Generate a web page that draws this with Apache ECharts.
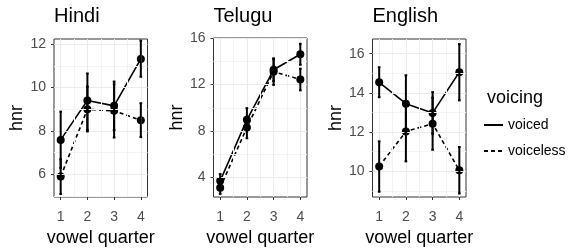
<!DOCTYPE html>
<html>
<head>
<meta charset="utf-8">
<script src="https://cdn.jsdelivr.net/npm/echarts@6/dist/echarts.min.js"></script>
<style>
html,body{margin:0;padding:0;background:#fff;}
#chart{width:580px;height:252px;}
</style>
</head>
<body>
<div id="chart"></div>
<script>
var quarters = [1, 2, 3, 4];
var xGridMinor = [1.5, 2.5, 3.5];

var hindiVoiced = [7.59, 9.41, 9.16, 11.32];
var hindiVoicedLo = [6.29, 8.05, 8.05, 10.5];
var hindiVoicedHi = [8.89, 10.65, 10.28, 12.17];
var hindiVoiceless = [5.9, 9.0, 8.93, 8.5];
var hindiVoicelessLo = [5.1, 7.98, 7.7, 7.72];
var hindiVoicelessHi = [6.7, 10.05, 10.15, 9.28];
var hindiTicks = [6, 8, 10, 12];
var hindiMinor = [5, 7, 9, 11];

var teluguVoiced = [3.72, 8.97, 13.27, 14.6];
var teluguVoicedLo = [3.12, 7.97, 12.3, 13.7];
var teluguVoicedHi = [4.3, 9.97, 14.25, 15.5];
var teluguVoiceless = [3.13, 8.3, 13.1, 12.44];
var teluguVoicelessLo = [2.6, 7.38, 11.97, 11.5];
var teluguVoicelessHi = [3.66, 9.22, 14.2, 13.36];
var teluguTicks = [4, 8, 12, 16];
var teluguMinor = [6, 10, 14];

var englishVoiced = [14.54, 13.45, 12.98, 15.06];
var englishVoicedLo = [13.78, 12.0, 11.92, 13.62];
var englishVoicedHi = [15.31, 14.9, 14.04, 16.49];
var englishVoiceless = [10.25, 12.03, 12.43, 10.05];
var englishVoicelessLo = [8.96, 10.51, 11.1, 8.87];
var englishVoicelessHi = [11.53, 13.55, 13.76, 11.24];
var englishTicks = [10, 12, 14, 16];
var englishMinor = [9, 11, 13, 15];

var FONT = 'Liberation Sans, Arial, sans-serif';

// panel layout (pixels) and axis ranges
var panels = [
	{title: 'Hindi', left: 54, top: 39, height: 163, ymin: 4.96, ymax: 12.24, ticks: hindiTicks, minor: hindiMinor,
		v: hindiVoiced, vlo: hindiVoicedLo, vhi: hindiVoicedHi, u: hindiVoiceless, ulo: hindiVoicelessLo, uhi: hindiVoicelessHi},
	{title: 'Telugu', left: 213.5, top: 38, height: 164.3, ymin: 2.33, ymax: 16, ticks: teluguTicks, minor: teluguMinor,
		v: teluguVoiced, vlo: teluguVoicedLo, vhi: teluguVoicedHi, u: teluguVoiceless, ulo: teluguVoicelessLo, uhi: teluguVoicelessHi},
	{title: 'English', left: 372.5, top: 39, height: 163.3, ymin: 8.69, ymax: 16.75, ticks: englishTicks, minor: englishMinor,
		v: englishVoiced, vlo: englishVoicedLo, vhi: englishVoicedHi, u: englishVoiceless, ulo: englishVoicelessLo, uhi: englishVoicelessHi}
];

function pairs(xs, ys) {
	return xs.map(function(x, i){ return [x, ys[i]]; });
}
function triples(xs, lo, hi) {
	return xs.map(function(x, i){ return [x, lo[i], hi[i]]; });
}

function errorBar(params, api) {
	var x = api.value(0);
	var lo = api.coord([x, api.value(1)]);
	var hi = api.coord([x, api.value(2)]);
	var l = api.coord([x - 0.05, api.value(1)])[0];
	var r = api.coord([x + 0.05, api.value(1)])[0];
	var st = {stroke: '#000', lineWidth: 2, opacity: 1};
	return {
		type: 'group',
		children: [
			{type: 'line', z2: 10, shape: {x1: lo[0], y1: lo[1], x2: hi[0], y2: hi[1]}, style: st},
			{type: 'line', z2: 10, shape: {x1: l, y1: lo[1], x2: r, y2: lo[1]}, style: st},
			{type: 'line', z2: 10, shape: {x1: l, y1: hi[1], x2: r, y2: hi[1]}, style: st}
		]
	};
}

var grids = [], xAxes = [], yAxes = [], series = [], titles = [];

panels.forEach(function(p, i){
	grids.push({left: p.left, top: p.top, width: 93.5, height: p.height, show: true,
		backgroundColor: '#fff', borderColor: '#333', borderWidth: 1});
	titles.push({text: p.title, left: p.left - 5, top: 1,
		textStyle: {fontFamily: FONT, fontSize: 20, fontWeight: 'normal', color: '#000'}});
	xAxes.push({
		type: 'value', gridIndex: i, min: 0.75, max: 4.25,
		name: 'vowel quarter', nameLocation: 'middle', nameGap: 32,
		nameTextStyle: {fontFamily: FONT, fontSize: 18, color: '#000'},
		axisLine: {show: false},
		axisTick: {show: true, length: 3, customValues: quarters, lineStyle: {color: '#333', width: 1}},
		axisLabel: {customValues: quarters, margin: 13, fontFamily: FONT, fontSize: 14, color: '#4d4d4d'},
		splitLine: {show: false}
	});
	yAxes.push({
		type: 'value', gridIndex: i, min: p.ymin, max: p.ymax,
		name: 'hnr', nameLocation: 'middle', nameGap: 24,
		nameTextStyle: {fontFamily: FONT, fontSize: 18, color: '#000'},
		axisLine: {show: false},
		axisTick: {show: true, length: 3, customValues: p.ticks, lineStyle: {color: '#333', width: 1}},
		axisLabel: {customValues: p.ticks, margin: 8, fontFamily: FONT, fontSize: 14, color: '#4d4d4d'},
		splitLine: {show: false}
	});

	// background grid lines
	var lines = [];
	p.minor.forEach(function(v){ lines.push({yAxis: v, lineStyle: {color: '#f3f3f3', width: 1}}); });
	xGridMinor.forEach(function(v){ lines.push({xAxis: v, lineStyle: {color: '#f3f3f3', width: 1}}); });
	p.ticks.forEach(function(v){ lines.push({yAxis: v, lineStyle: {color: '#ebebeb', width: 1}}); });
	quarters.forEach(function(v){ lines.push({xAxis: v, lineStyle: {color: '#ebebeb', width: 1}}); });
	series.push({
		name: 'grid' + i, type: 'line', xAxisIndex: i, yAxisIndex: i, z: 1, silent: true,
		data: pairs(quarters, p.v), showSymbol: false, lineStyle: {opacity: 0},
		markLine: {silent: true, symbol: ['none', 'none'], label: {show: false}, animation: false,
			lineStyle: {type: 'solid'}, data: lines}
	});

	series.push({
		type: 'custom', xAxisIndex: i, yAxisIndex: i, z: 5, renderItem: errorBar,
		encode: {x: 0, y: [1, 2]}, data: triples(quarters, p.vlo, p.vhi)
	});
	series.push({
		type: 'custom', xAxisIndex: i, yAxisIndex: i, z: 5, renderItem: errorBar,
		encode: {x: 0, y: [1, 2]}, data: triples(quarters, p.ulo, p.uhi)
	});
	series.push({
		name: 'voiced', type: 'line', xAxisIndex: i, yAxisIndex: i, z: 4,
		data: pairs(quarters, p.v), symbol: 'circle', symbolSize: 8,
		itemStyle: {color: '#000'}, lineStyle: {color: '#000', width: 1.6, type: 'solid'}
	});
	series.push({
		name: 'voiceless', type: 'line', xAxisIndex: i, yAxisIndex: i, z: 4,
		data: pairs(quarters, p.u), symbol: 'circle', symbolSize: 8,
		itemStyle: {color: '#000'}, lineStyle: {color: '#000', width: 1.6, type: [4, 3]}
	});
});

titles.push({text: 'voicing', left: 482, top: 84,
	textStyle: {fontFamily: FONT, fontSize: 18, fontWeight: 'normal', color: '#000'}});

var myChart = echarts.init(document.getElementById('chart'), null, {renderer: 'canvas'});
myChart.setOption({
	animation: false,
	backgroundColor: '#fff',
	title: titles,
	grid: grids,
	xAxis: xAxes,
	yAxis: yAxes,
	legend: {
		data: ['voiced', 'voiceless'], orient: 'vertical', left: 478, top: 113,
		itemWidth: 19, itemHeight: 14, itemGap: 12, selectedMode: false,
		itemStyle: {color: 'rgba(0,0,0,0)', borderWidth: 0},
		textStyle: {fontFamily: FONT, fontSize: 14, color: '#000'}
	},
	series: series
});
</script>
</body>
</html>
